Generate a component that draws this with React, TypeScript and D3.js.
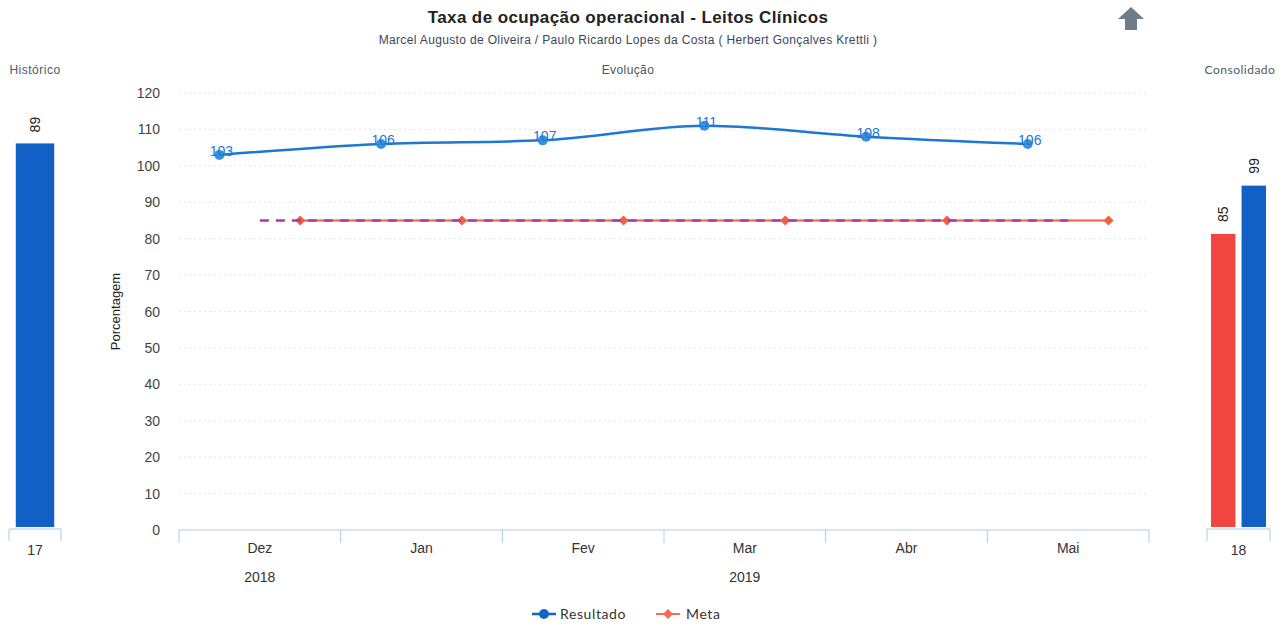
import * as d3 from "d3";

const meses = ["Dez", "Jan", "Fev", "Mar", "Abr", "Mai"];
const anos = [
  { ano: "2018", de: "Dez", ate: "Dez" },
  { ano: "2019", de: "Jan", ate: "Mai" },
];
const resultado = [103, 106, 107, 111, 108, 106];
const meta = [85, 85, 85, 85, 85, 85];
const metaTracejada = [85, 85, 85, 85, 85, 85];
const yTicks = [0, 10, 20, 30, 40, 50, 60, 70, 80, 90, 100, 110, 120];

const historicoCat = ["17"];
const historicoValor = [89];
const consolidadoCat = ["18"];
const consolidadoSeries = ["Meta", "Resultado"];
const consolidadoValor = [85, 99];

const W = 1284;
const H = 626;
const FONTE = "'Liberation Sans', Arial, sans-serif";
const AZUL = "#1b78d3";
const AZUL_BARRA = "#1060c6";
const VERMELHO = "#f0463f";
const LARANJA = "#f45f3f";

function diamante(cx: number, cy: number, r: number) {
  return `M${cx},${cy - r}L${cx + r},${cy}L${cx},${cy + r}L${cx - r},${cy}Z`;
}

export default function App() {
  // Área principal
  const x0 = d3.scaleBand().domain(meses).range([179, 1149]).padding(0);
  const x1 = d3.scaleBand().domain(["Resultado", "Meta"]).range([0, x0.bandwidth()]).padding(0);
  const y = d3.scaleLinear().domain([0, 120]).range([530, 93]);

  const xRes = (m: string) => (x0(m) || 0) + (x1("Resultado") || 0) + x1.bandwidth() / 2;
  const xMeta = (m: string) => (x0(m) || 0) + (x1("Meta") || 0) + x1.bandwidth() / 2;
  const xCentro = (m: string) => (x0(m) || 0) + x0.bandwidth() / 2;

  const linhaRes = d3
    .line<number>()
    .x((_, i) => xRes(meses[i]))
    .y((d) => y(d))
    .curve(d3.curveMonotoneX);
  const linhaMeta = d3
    .line<number>()
    .x((_, i) => xMeta(meses[i]))
    .y((d) => y(d));
  const linhaTrac = d3
    .line<number>()
    .x((_, i) => xCentro(meses[i]))
    .y((d) => y(d));

  // Painel Histórico
  const xh = d3.scaleBand().domain(historicoCat).range([9, 61]).padding(0.15);
  const yh = d3.scaleLinear().domain([0, 100]).range([527, 96]);

  // Painel Consolidado
  const xc = d3.scaleBand().domain(consolidadoCat).range([1207, 1270]).padding(0);
  const xcIn = d3
    .scaleBand()
    .domain(consolidadoSeries)
    .range([4, xc.bandwidth() - 4])
    .paddingInner(0.2);
  const yc = d3.scaleLinear().domain([0, 125]).range([527, 96]);
  const coresCons = [VERMELHO, AZUL_BARRA];

  return (
    <svg
      width={W}
      height={H}
      viewBox={`0 0 ${W} ${H}`}
      style={{ position: "absolute", left: 0, top: 0, background: "#fff" }}
      fontFamily={FONTE}
    >
      <rect width={W} height={H} fill="#fff" />

      {/* Títulos */}
      <text x={628} y={23} textAnchor="middle" fontSize={17} fontWeight="bold" fill="#222" letterSpacing={0.4}>
        Taxa de ocupação operacional - Leitos Clínicos
      </text>
      <text x={628} y={44} textAnchor="middle" fontSize={12} fill="#3a4660" letterSpacing={0.35}>
        Marcel Augusto de Oliveira / Paulo Ricardo Lopes da Costa ( Herbert Gonçalves Krettli )
      </text>
      <text x={628} y={74} textAnchor="middle" fontSize={12} fill="#4a5563" letterSpacing={0.4}>
        Evolução
      </text>
      <text x={35} y={74} textAnchor="middle" fontSize={12} fill="#4a5a6a" letterSpacing={0.5}>
        Histórico
      </text>
      <text x={1240} y={74} textAnchor="middle" fontSize={12} fill="#4a5a6a" letterSpacing={0.5} fontFamily="Lato, sans-serif">
        Consolidado
      </text>

      {/* Seta */}
      <path d="M1131,7L1144,19L1137,19L1137,30L1125,30L1125,19L1118,19Z" fill="#6f7b88" />

      {/* Grade */}
      {yTicks.map((t) => (
        <g key={t}>
          {t > 0 && (
            <line
              x1={179}
              x2={1149}
              y1={y(t)}
              y2={y(t)}
              stroke="#e6e6e6"
              strokeWidth={1}
              strokeDasharray="2,3"
            />
          )}
          <text x={160} y={y(t) + 5} textAnchor="end" fontSize={14} fill="#444">
            {t}
          </text>
        </g>
      ))}
      <text
        transform={`translate(120,${y(60)}) rotate(-90)`}
        textAnchor="middle"
        fontSize={13}
        fill="#222"
      >
        Porcentagem
      </text>

      {/* Eixo X */}
      <line x1={179} x2={1149} y1={530} y2={530} stroke="#a9cbe8" strokeWidth={1} />
      {meses.map((m) => (
        <line key={"t" + m} x1={x0(m) || 0} x2={x0(m) || 0} y1={530} y2={543} stroke="#a9cbe8" />
      ))}
      <line x1={1149} x2={1149} y1={530} y2={543} stroke="#a9cbe8" />
      {meses.map((m) => (
        <text key={"l" + m} x={xCentro(m)} y={553} textAnchor="middle" fontSize={14} fill="#333">
          {m}
        </text>
      ))}
      {anos.map((a) => {
        const ini = x0(a.de) || 0;
        const fim = (x0(a.ate) || 0) + x0.bandwidth();
        return (
          <text key={a.ano} x={(ini + fim) / 2} y={582} textAnchor="middle" fontSize={14} fill="#333">
            {a.ano}
          </text>
        );
      })}

      {/* Meta */}
      <path d={linhaMeta(meta) || ""} fill="none" stroke={LARANJA} strokeWidth={2} />
      {meta.map((v, i) => (
        <path key={"m" + i} d={diamante(xMeta(meses[i]), y(v), 5)} fill={LARANJA} />
      ))}
      <path
        d={linhaTrac(metaTracejada) || ""}
        fill="none"
        stroke="#a23db0"
        strokeWidth={2.5}
        strokeDasharray="9,7"
      />

      {/* Resultado */}
      <path d={linhaRes(resultado) || ""} fill="none" stroke={AZUL} strokeWidth={2.5} />
      {resultado.map((v, i) => (
        <circle key={"r" + i} cx={xRes(meses[i])} cy={y(v)} r={5} fill="#3a90e0" />
      ))}
      {resultado.map((v, i) => (
        <text
          key={"rl" + i}
          x={xRes(meses[i]) + 2}
          y={y(v) + 1}
          textAnchor="middle"
          fontSize={14}
          fill={AZUL}
        >
          {v}
        </text>
      ))}

      {/* Histórico */}
      {historicoCat.map((c, i) => (
        <g key={"h" + c}>
          <rect
            x={xh(c) || 0}
            y={yh(historicoValor[i])}
            width={xh.bandwidth()}
            height={527 - yh(historicoValor[i])}
            fill={AZUL_BARRA}
          />
          <text
            transform={`translate(${(xh(c) || 0) + xh.bandwidth() / 2},${yh(historicoValor[i]) - 11}) rotate(-90)`}
            dominantBaseline="central"
            fontSize={14}
            fill="#222"
          >
            {historicoValor[i]}
          </text>
          <text x={(xh(c) || 0) + xh.bandwidth() / 2} y={555} textAnchor="middle" fontSize={14} fill="#333">
            {c}
          </text>
        </g>
      ))}
      <line x1={9} x2={61} y1={529} y2={529} stroke="#a9cbe8" />
      <line x1={9} x2={9} y1={529} y2={541} stroke="#a9cbe8" />
      <line x1={61} x2={61} y1={529} y2={541} stroke="#a9cbe8" />

      {/* Consolidado */}
      {consolidadoCat.map((c) => (
        <g key={"c" + c}>
          {consolidadoSeries.map((s, i) => {
            const bx = (xc(c) || 0) + (xcIn(s) || 0);
            const v = consolidadoValor[i];
            return (
              <g key={s}>
                <rect x={bx} y={yc(v)} width={xcIn.bandwidth()} height={527 - yc(v)} fill={coresCons[i]} />
                <text
                  transform={`translate(${bx + xcIn.bandwidth() / 2},${yc(v) - 12}) rotate(-90)`}
                  dominantBaseline="central"
                  fontSize={14}
                  fill="#222"
                >
                  {v}
                </text>
              </g>
            );
          })}
          <text x={(xc(c) || 0) + xc.bandwidth() / 2} y={555} textAnchor="middle" fontSize={14} fill="#333">
            {c}
          </text>
        </g>
      ))}
      <line x1={1207} x2={1270} y1={529} y2={529} stroke="#a9cbe8" />
      <line x1={1207} x2={1207} y1={529} y2={541} stroke="#a9cbe8" />
      <line x1={1270} x2={1270} y1={529} y2={541} stroke="#a9cbe8" />

      {/* Legenda */}
      <g fontFamily="Lato, sans-serif" fontSize={14} fill="#333">
        <line x1={532} x2={556} y1={614} y2={614} stroke="#1565c8" strokeWidth={2.5} />
        <circle cx={544} cy={614} r={5} fill="#1565c8" />
        <text x={560} y={619} letterSpacing={0.6}>
          Resultado
        </text>
        <line x1={656} x2={680} y1={614} y2={614} stroke="#f56a50" strokeWidth={2} />
        <path d={diamante(668, 614, 5)} fill="#f56a50" />
        <text x={686} y={619} letterSpacing={0.6}>
          Meta
        </text>
      </g>
    </svg>
  );
}
